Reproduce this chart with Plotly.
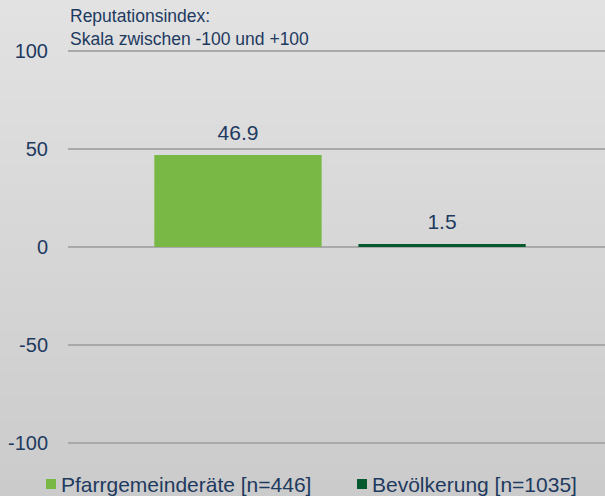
import plotly.graph_objects as go

series_names = ["Pfarrgemeinderäte [n=446]", "Bevölkerung [n=1035]"]
series_values = [46.9, 1.5]
series_colors = ["#7ab845", "#075a2d"]
tick_values = [-100, -50, 0, 50, 100]
tick_labels = ["-100", "-50", "0", "50", "100"]
note_text = "Reputationsindex:<br>Skala zwischen -100 und +100"

W, H = 605, 496
L, R, T, B = 68, 0, 48, 50
PW, PH = W - L - R, H - T - B
text_color = "#1e3a5f"
font_family = "Liberation Sans, Arial, sans-serif"
BARGAP = 0.24
Y_PAD = 1.5

fig = go.Figure()
for i, (name, val, col) in enumerate(zip(series_names, series_values, series_colors)):
    fig.add_trace(go.Bar(
        x=[0], y=[val], name=name, marker=dict(color=col, line=dict(width=0)),
        offsetgroup=str(i), alignmentgroup="g", showlegend=False, hoverinfo="skip",
    ))
for i, (name, val) in enumerate(zip(series_names, series_values)):
    fig.add_trace(go.Scatter(
        x=[0], y=[val], mode="markers+text", text=[f"{val:.1f}"], textposition="top center",
        marker=dict(size=14, opacity=0), offsetgroup=str(i), alignmentgroup="g",
        textfont=dict(size=21, color=text_color, family=font_family),
        showlegend=False, cliponaxis=False, hoverinfo="skip",
    ))

# background gradient
top_p = (H - B) / PH
bot_p = -B / PH
n = 60
c0 = (0xe2, 0xe2, 0xe2)
c1 = (0xcb, 0xcb, 0xcb)
shapes = []
for i in range(n):
    f = i / (n - 1)
    c = tuple(round(a + (b - a) * f) for a, b in zip(c0, c1))
    y1 = top_p - (top_p - bot_p) * i / n
    y0 = top_p - (top_p - bot_p) * (i + 1) / n
    shapes.append(dict(type="rect", xref="paper", yref="paper",
                       x0=-L / PW - 0.02, x1=1.02, y0=y0 - 0.003, y1=y1,
                       fillcolor="rgb(%d,%d,%d)" % c, line=dict(width=0), layer="below"))

# custom legend
legend_y = (H - B - 484) / PH
legend_x_px = [46, 357]
annotations = [dict(text=note_text, x=0, y=1, xref="paper", yref="paper",
                    xanchor="left", yanchor="bottom", yshift=-3, align="left", showarrow=False,
                    font=dict(size=17.5, color=text_color))]
for name, col, lx in zip(series_names, series_colors, legend_x_px):
    x0 = (lx - L) / PW
    x1 = (lx + 10 - L) / PW
    shapes.append(dict(type="rect", xref="paper", yref="paper",
                       x0=x0, x1=x1, y0=legend_y - 5 / PH, y1=legend_y + 5 / PH,
                       fillcolor=col, line=dict(width=0)))
    annotations.append(dict(text=name, x=(lx + 13 - L) / PW, y=legend_y, xref="paper", yref="paper",
                            xanchor="left", yanchor="middle", showarrow=False,
                            font=dict(size=21, color=text_color)))

fig.update_layout(
    width=W, height=H,
    margin=dict(l=L, r=R, t=T, b=B, pad=0, autoexpand=False),
    paper_bgcolor="#d6d6d6", plot_bgcolor="rgba(0,0,0,0)",
    barmode="group", bargap=BARGAP, bargroupgap=0.18,
    scattermode="group", scattergap=BARGAP,
    font=dict(family=font_family, color=text_color, size=20),
    showlegend=False,
    shapes=shapes,
    annotations=annotations,
)
fig.update_xaxes(range=[-(340 - L) / PW, 1 - (340 - L) / PW], showticklabels=False,
                 showgrid=False, zeroline=False, showline=False, fixedrange=True)
fig.update_yaxes(range=[tick_values[0] - Y_PAD, tick_values[-1] + Y_PAD],
                 tickvals=tick_values, ticktext=tick_labels,
                 showgrid=True, gridcolor="#a9a9a9", gridwidth=1.5, zeroline=False,
                 showline=False, ticks="", ticklabelstandoff=19,
                 tickfont=dict(size=20, color=text_color), fixedrange=True)
fig.write_html("out.html", config={"displayModeBar": False},
               post_script="document.body.style.margin='0';document.body.style.overflow='hidden';")
